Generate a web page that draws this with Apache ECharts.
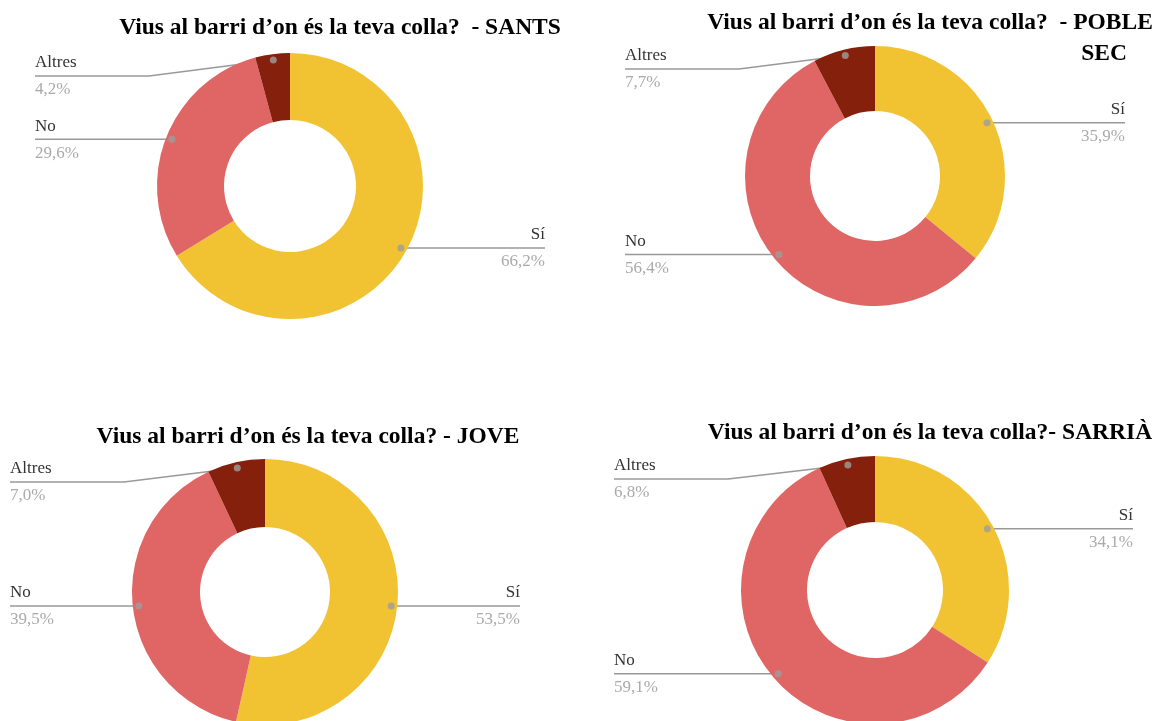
<!DOCTYPE html>
<html><head><meta charset="utf-8">
<script src="https://cdn.jsdelivr.net/npm/echarts@6/dist/echarts.min.js"></script>
<style>html,body{margin:0;padding:0;background:#fff}#c{width:1156px;height:721px}</style>
</head><body><div id="c"></div>
<script>
const categories = ['Sí', 'No', 'Altres'];
const santsValues = [66.2, 29.6, 4.2];
const pobleSecValues = [35.9, 56.4, 7.7];
const joveValues = [53.5, 39.5, 7.0];
const sarriaValues = [34.1, 59.1, 6.8];
const titleSants = 'Vius al barri d’on és la teva colla?  - SANTS';
const titlePobleSec1 = 'Vius al barri d’on és la teva colla?  - POBLE';
const titlePobleSec2 = 'SEC';
const titleJove = 'Vius al barri d’on és la teva colla? - JOVE';
const titleSarria = 'Vius al barri d’on és la teva colla?- SARRIÀ';
const colors = ['#f1c232', '#e06666', '#85200c'];

const panels = [
  { values: santsValues, center: [290, 186], r: [66, 133], left: 35, right: 545 },
  { values: pobleSecValues, center: [875, 176], r: [65, 130], left: 625, right: 1125 },
  { values: joveValues, center: [265, 592], r: [65, 133], left: 10, right: 520 },
  { values: sarriaValues, center: [875, 590], r: [68, 134], left: 614, right: 1133 }
];

function fmt(v) { return v.toFixed(1).replace('.', ',') + '%'; }
const serif = '"Liberation Serif", "DejaVu Serif", serif';

const series = [];
panels.forEach((p, i) => {
  series.push({
    type: 'pie',
    center: p.center,
    radius: p.r,
    startAngle: 90,
    clockwise: true,
    avoidLabelOverlap: false,
    animation: false,
    silent: true,
    color: colors,
    itemStyle: { borderWidth: 0 },
    data: categories.map((c, k) => ({ name: c, value: p.values[k] })),
    label: {
      show: true,
      position: 'outside',
      formatter: (params) => '{n|' + params.name + '}\n{p|' + fmt(params.value) + '}',
      rich: {
        n: { color: '#333', fontSize: 17, fontFamily: serif, lineHeight: 26 },
        p: { color: '#aaaaaa', fontSize: 17, fontFamily: serif, lineHeight: 28 }
      }
    },
    labelLine: { show: true, length: 10, length2: 10, lineStyle: { color: '#999', width: 1.5 } },
    labelLayout: function (params) {
      const pts = params.labelLinePoints;
      if (!pts) return {};
      const cx = p.center[0], cy = p.center[1], R = p.r[1];
      let dx = pts[0][0] - cx, dy = pts[0][1] - cy;
      const len = Math.hypot(dx, dy) || 1; dx /= len; dy /= len;
      const x0 = cx + dx * (R - 6), y0 = cy + dy * (R - 6);
      const isLeft = dx < 0;
      const y = Math.max(y0, cy - R + 23);
      const edge = isLeft ? p.left : p.right;
      let bx = isLeft ? edge + 114 : edge - 114;
      if (Math.abs(y - y0) < 0.5) bx = (x0 + edge) / 2;
      return {
        x: edge, y: y + 1,
        align: isLeft ? 'left' : 'right',
        verticalAlign: 'middle',
        labelLinePoints: [[x0, y0], [bx, y], [edge, y]]
      };
    }
  });
  const total = p.values.reduce((a, b) => a + b, 0);
  let cum = 0;
  const dots = p.values.map(v => { const a = (cum + v / 2) / total * 100; cum += v; return [p.r[1] - 6, a]; });
  series.push({
    type: 'scatter', coordinateSystem: 'polar', polarIndex: i,
    data: dots, symbolSize: 7, silent: true, animation: false, z: 5,
    itemStyle: { color: '#9e9e9e' }
  });
});

const titleFont = 'bold 23.5px ' + serif;
function t(text, x, y) {
  return { type: 'text', x: x, y: y, silent: true,
    style: { text: text, font: titleFont, fill: '#000', align: 'center', verticalAlign: 'middle', textAlign: 'center', textVerticalAlign: 'middle' } };
}

const chart = echarts.init(document.getElementById('c'), null, { renderer: 'canvas' });
chart.setOption({
  backgroundColor: '#fff',
  animation: false,
  polar: panels.map(p => ({ center: p.center, radius: [0, p.r[1]] })),
  angleAxis: panels.map((p, i) => ({ polarIndex: i, type: 'value', min: 0, max: 100, startAngle: 90, clockwise: true, show: false })),
  radiusAxis: panels.map((p, i) => ({ polarIndex: i, type: 'value', min: 0, max: p.r[1], show: false })),
  graphic: [
    t(titleSants, 340, 28),
    t(titlePobleSec1, 930, 23),
    t(titlePobleSec2, 1104, 54),
    t(titleJove, 308, 437),
    t(titleSarria, 930, 433)
  ],
  series: series
});
</script>
</body></html>
